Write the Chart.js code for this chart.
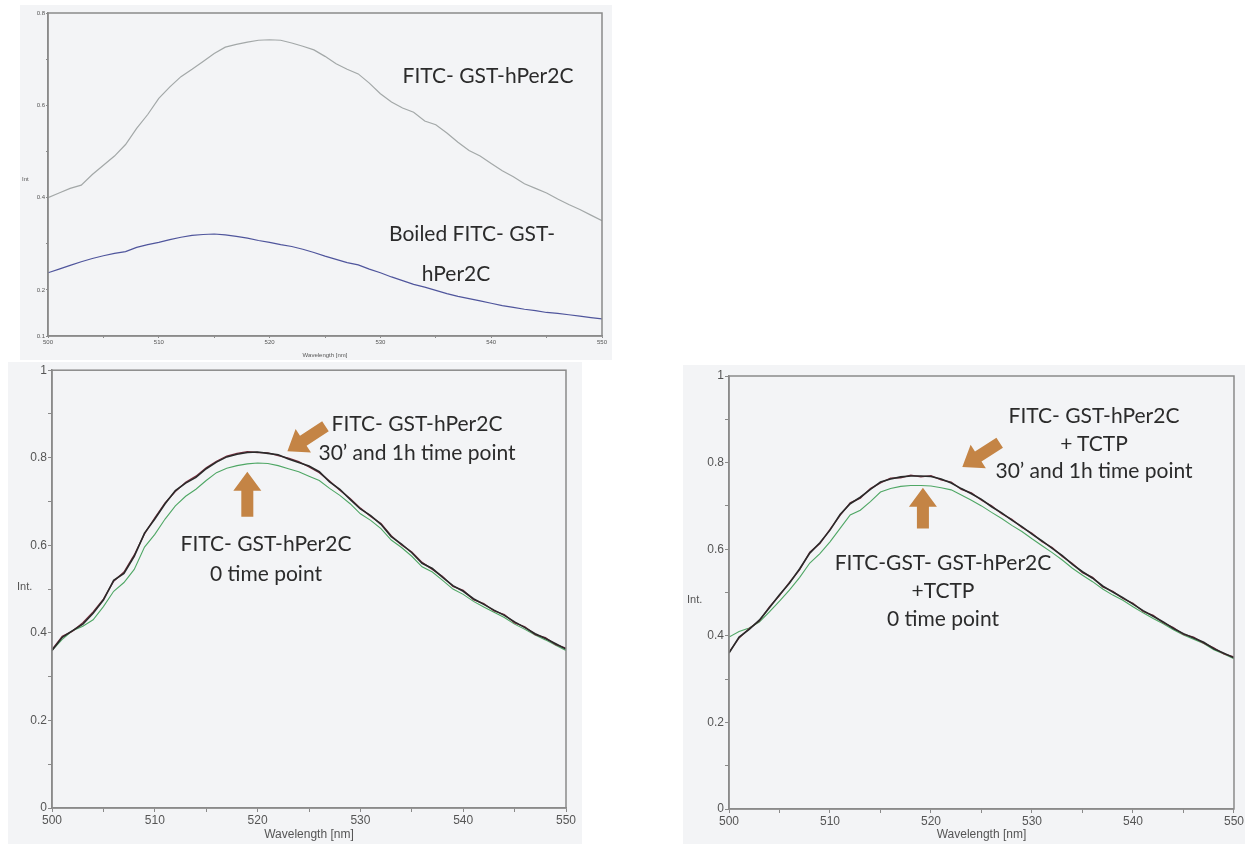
<!DOCTYPE html>
<html>
<head>
<meta charset="utf-8">
<script src="https://cdn.jsdelivr.net/npm/chart.js@4"></script>
<style>
  body { margin: 0; background: #fff; width: 1245px; height: 844px; overflow: hidden; position: relative; }
  .panel { position: absolute; background: #f3f4f6; }
  .panel canvas { position: absolute; left: 0; top: 0; }
  .note { position: absolute; width: 400px; text-align: center; font-family: Lato, "Open Sans", sans-serif; color: #2b2b2b; white-space: pre; }
  .ylab { position: absolute; font-family: "Liberation Sans Narrow", "Liberation Sans", sans-serif; color: #555; }
</style>
</head>
<body>
<div class="panel" style="left:20px;top:5px;width:592px;height:355px"><canvas id="topChart" width="592" height="355"></canvas></div>
<div class="panel" style="left:8px;top:362px;width:574px;height:482px"><canvas id="leftChart" width="574" height="482"></canvas></div>
<div class="panel" style="left:683px;top:365px;width:562px;height:479px"><canvas id="rightChart" width="562" height="479"></canvas></div>

<div class="ylab" style="left:22px;top:176px;font-size:6px">Int</div>
<div class="ylab" style="left:17px;top:580px;font-size:11px">Int.</div>
<div class="ylab" style="left:687px;top:593px;font-size:11px">Int.</div>

<div class="note" style="left:288px;top:61px;font-size:21px;line-height:28px">FITC- GST-hPer2C</div>
<div class="note" style="left:272px;top:219px;font-size:21px;line-height:28px">Boiled FITC- GST-</div>
<div class="note" style="left:256px;top:259px;font-size:21px;line-height:28px">hPer2C</div>

<div class="note" style="left:217px;top:408px;font-size:21px;line-height:29px">FITC- GST-hPer2C
30’ and 1h time point</div>
<div class="note" style="left:66px;top:528px;font-size:21px;line-height:30px">FITC- GST-hPer2C
0 time point</div>

<div class="note" style="left:894px;top:401px;font-size:21px;line-height:27.5px">FITC- GST-hPer2C
+ TCTP
30’ and 1h time point</div>
<div class="note" style="left:743px;top:548px;font-size:21px;line-height:28px">FITC-GST- GST-hPer2C
+TCTP
0 time point</div>

<script>
// --- Data ---
const wavelength = [];
for (let w = 500; w <= 550; w++) wavelength.push(w);

// top panel
const topNative = [0.400, 0.410, 0.420, 0.427, 0.450, 0.470, 0.490, 0.515, 0.550, 0.580,
  0.615, 0.640, 0.662, 0.678, 0.695, 0.712, 0.726, 0.732, 0.737, 0.741,
  0.742, 0.741, 0.735, 0.728, 0.720, 0.706, 0.690, 0.678, 0.668, 0.648,
  0.625, 0.607, 0.594, 0.585, 0.566, 0.558, 0.540, 0.520, 0.502, 0.490,
  0.474, 0.458, 0.445, 0.430, 0.420, 0.410, 0.397, 0.385, 0.374, 0.362, 0.350];
const topBoiled = [0.237, 0.245, 0.253, 0.261, 0.268, 0.274, 0.279, 0.283, 0.292, 0.298,
  0.303, 0.309, 0.314, 0.318, 0.320, 0.321, 0.319, 0.316, 0.312, 0.307,
  0.303, 0.298, 0.294, 0.288, 0.281, 0.273, 0.266, 0.259, 0.254, 0.245,
  0.237, 0.228, 0.220, 0.212, 0.206, 0.199, 0.192, 0.186, 0.181, 0.176,
  0.171, 0.166, 0.162, 0.158, 0.155, 0.151, 0.149, 0.146, 0.143, 0.140, 0.137];

// bottom-left panel
const left30 = [0.360, 0.390, 0.405, 0.420, 0.445, 0.475, 0.520, 0.536, 0.575, 0.628,
  0.660, 0.695, 0.725, 0.742, 0.755, 0.775, 0.790, 0.802, 0.808, 0.812,
  0.813, 0.810, 0.807, 0.797, 0.789, 0.781, 0.768, 0.745, 0.728, 0.705,
  0.683, 0.668, 0.648, 0.620, 0.603, 0.583, 0.559, 0.547, 0.527, 0.508,
  0.495, 0.478, 0.465, 0.452, 0.440, 0.425, 0.412, 0.398, 0.387, 0.375, 0.363];
const left1h = [0.362, 0.392, 0.404, 0.423, 0.448, 0.477, 0.518, 0.539, 0.578, 0.626,
  0.663, 0.697, 0.723, 0.744, 0.758, 0.777, 0.792, 0.804, 0.810, 0.814,
  0.812, 0.811, 0.805, 0.799, 0.791, 0.779, 0.766, 0.747, 0.726, 0.707,
  0.685, 0.666, 0.650, 0.622, 0.601, 0.585, 0.561, 0.545, 0.529, 0.506,
  0.497, 0.476, 0.467, 0.450, 0.442, 0.423, 0.414, 0.396, 0.389, 0.373, 0.365];
const left0 = [0.360, 0.385, 0.405, 0.415, 0.430, 0.460, 0.495, 0.515, 0.545, 0.596,
  0.625, 0.660, 0.690, 0.712, 0.728, 0.748, 0.766, 0.776, 0.782, 0.786,
  0.788, 0.787, 0.782, 0.775, 0.768, 0.758, 0.748, 0.730, 0.714, 0.695,
  0.672, 0.657, 0.638, 0.612, 0.595, 0.575, 0.551, 0.539, 0.520, 0.500,
  0.488, 0.472, 0.459, 0.447, 0.435, 0.420, 0.408, 0.395, 0.384, 0.372, 0.360];

// bottom-right panel (+TCTP)
const right30 = [0.360, 0.397, 0.415, 0.436, 0.465, 0.495, 0.522, 0.555, 0.591, 0.615,
  0.644, 0.680, 0.705, 0.720, 0.738, 0.755, 0.762, 0.767, 0.769, 0.769,
  0.768, 0.762, 0.753, 0.740, 0.728, 0.715, 0.698, 0.684, 0.667, 0.652,
  0.635, 0.619, 0.602, 0.585, 0.565, 0.548, 0.533, 0.515, 0.501, 0.488,
  0.473, 0.458, 0.445, 0.432, 0.417, 0.405, 0.395, 0.385, 0.370, 0.360, 0.349];
const right1h = [0.362, 0.395, 0.417, 0.434, 0.467, 0.493, 0.524, 0.553, 0.593, 0.613,
  0.646, 0.678, 0.707, 0.718, 0.740, 0.753, 0.764, 0.765, 0.771, 0.767,
  0.770, 0.760, 0.755, 0.738, 0.730, 0.713, 0.700, 0.682, 0.669, 0.650,
  0.637, 0.617, 0.604, 0.583, 0.567, 0.546, 0.535, 0.513, 0.503, 0.486,
  0.475, 0.456, 0.447, 0.430, 0.419, 0.403, 0.397, 0.383, 0.372, 0.358, 0.351];
const right0 = [0.397, 0.410, 0.418, 0.432, 0.455, 0.480, 0.506, 0.535, 0.568, 0.590,
  0.617, 0.648, 0.679, 0.690, 0.710, 0.732, 0.740, 0.745, 0.747, 0.747,
  0.746, 0.742, 0.737, 0.725, 0.713, 0.700, 0.685, 0.671, 0.655, 0.641,
  0.624, 0.608, 0.592, 0.575, 0.556, 0.540, 0.525, 0.508, 0.494, 0.482,
  0.467, 0.453, 0.440, 0.428, 0.414, 0.402, 0.392, 0.382, 0.368, 0.358, 0.347];

// arrows, in data units: [tailX, tailY, tipX, tipY]
const leftArrows = [[519, 0.665, 519, 0.768], [526.6, 0.872, 522.9, 0.815]];
const rightArrows = [[519.2, 0.648, 519.2, 0.742], [526.8, 0.846, 523.1, 0.79]];

// --- Helpers ---
const pts = ys => ys.map((y, i) => ({ x: wavelength[i], y }));

const frame = {
  id: 'frame',
  afterDraw(chart) {
    const { ctx, chartArea: a } = chart;
    ctx.save();
    ctx.strokeStyle = '#8a8a8a';
    ctx.lineWidth = 1.5;
    ctx.strokeRect(a.left, a.top, a.right - a.left, a.bottom - a.top);
    ctx.restore();
  }
};

const arrowPlugin = {
  id: 'arrows',
  afterDatasetsDraw(chart, args, opts) {
    const { ctx, scales: { x, y } } = chart;
    (opts.list || []).forEach(([x0, y0, x1, y1]) => {
      const tx = x.getPixelForValue(x0), ty = y.getPixelForValue(y0);
      const hx = x.getPixelForValue(x1), hy = y.getPixelForValue(y1);
      const len = Math.hypot(hx - tx, hy - ty);
      const dx = (hx - tx) / len, dy = (hy - ty) / len;
      const nx = -dy, ny = dx;
      const shaft = 6, head = 14, headLen = 19;
      const bx = hx - dx * headLen, by = hy - dy * headLen;
      ctx.save();
      ctx.fillStyle = '#c48445';
      ctx.beginPath();
      ctx.moveTo(tx + nx * shaft, ty + ny * shaft);
      ctx.lineTo(bx + nx * shaft, by + ny * shaft);
      ctx.lineTo(bx + nx * head, by + ny * head);
      ctx.lineTo(hx, hy);
      ctx.lineTo(bx - nx * head, by - ny * head);
      ctx.lineTo(bx - nx * shaft, by - ny * shaft);
      ctx.lineTo(tx - nx * shaft, ty - ny * shaft);
      ctx.closePath();
      ctx.fill();
      ctx.restore();
    });
  }
};

function makeChart(id, cfg) {
  const tickFont = { family: '"Liberation Sans Narrow", "Liberation Sans", sans-serif', size: cfg.font };
  return new Chart(document.getElementById(id), {
    type: 'line',
    data: { datasets: cfg.series.map(s => ({
      data: pts(s.values), borderColor: s.color, borderWidth: s.width,
      pointRadius: 0, tension: 0, fill: false
    })) },
    options: {
      responsive: false,
      animation: false,
      layout: { padding: { left: 0, right: cfg.padRight, top: cfg.padTop, bottom: 0 } },
      plugins: { legend: { display: false }, tooltip: { enabled: false }, arrows: { list: cfg.arrows || [] } },
      scales: {
        x: {
          type: 'linear', min: 500, max: 550,
          afterFit: s => { s.height = cfg.xHeight; },
          border: { color: '#8a8a8a', width: 1.5 },
          grid: { drawOnChartArea: false, color: '#8a8a8a', tickLength: cfg.tick },
          ticks: { stepSize: 5, autoSkip: false, maxRotation: 0, color: '#555', font: tickFont, padding: 1,
            callback: v => (v % 10 === 0 ? String(v) : '') },
          title: { display: true, text: 'Wavelength [nm]', color: '#555', font: tickFont, padding: { top: 0, bottom: cfg.titlePad } }
        },
        y: {
          min: cfg.yMin, max: cfg.yMax,
          afterFit: s => { s.width = cfg.yWidth; },
          border: { color: '#8a8a8a', width: 1.5 },
          grid: { drawOnChartArea: false, color: '#8a8a8a', tickLength: cfg.tick },
          ticks: { stepSize: 0.1, autoSkip: false, color: '#555', font: tickFont, padding: 1, callback: cfg.yLabel }
        }
      }
    },
    plugins: [frame, arrowPlugin]
  });
}

makeChart('topChart', {
  font: 6, tick: 2, padRight: 10, padTop: 8, xHeight: 24, yWidth: 28, titlePad: 1,
  yMin: 0.1, yMax: 0.8,
  yLabel: v => { const k = Math.round(v * 10); return (k === 1 || k % 2 === 0) ? (k / 10).toFixed(1) : ''; },
  series: [
    { values: topNative, color: '#a3a8a8', width: 1.2 },
    { values: topBoiled, color: '#4f559c', width: 1.2 }
  ]
});

const bottomLabel = v => { const k = Math.round(v * 10); return k % 2 === 0 ? (k === 0 ? '0' : k === 10 ? '1' : (k / 10).toFixed(1)) : ''; };

makeChart('leftChart', {
  font: 12, tick: 4, padRight: 16, padTop: 8, xHeight: 36, yWidth: 44, titlePad: 2,
  yMin: 0, yMax: 1, yLabel: bottomLabel, arrows: leftArrows,
  series: [
    { values: left30, color: '#2a2a2a', width: 1.6 },
    { values: left1h, color: '#7a3040', width: 1.3 },
    { values: left0, color: '#4fa765', width: 1.1 }
  ]
});

makeChart('rightChart', {
  font: 12, tick: 4, padRight: 10, padTop: 11, xHeight: 35, yWidth: 46, titlePad: 2,
  yMin: 0, yMax: 1, yLabel: bottomLabel, arrows: rightArrows,
  series: [
    { values: right30, color: '#2a2a2a', width: 1.6 },
    { values: right1h, color: '#7a3040', width: 1.3 },
    { values: right0, color: '#4fa765', width: 1.1 }
  ]
});
</script>
</body>
</html>
